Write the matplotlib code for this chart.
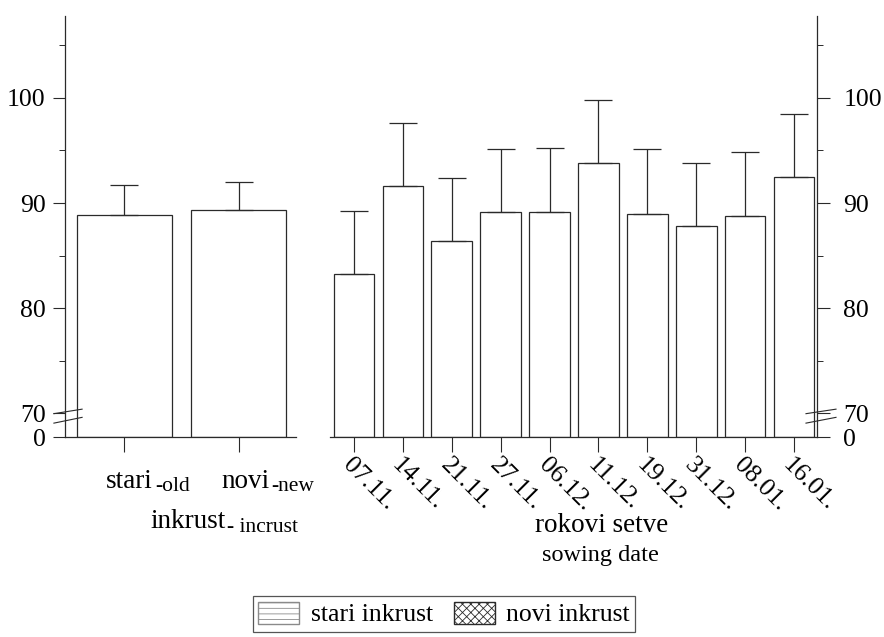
import numpy as np
import matplotlib
matplotlib.use("Agg")
import matplotlib.pyplot as plt
from matplotlib.patches import Patch
from matplotlib.transforms import blended_transform_factory

# left panel: seed coating (inkrust) – old vs new
INK_LABELS = ["stari", "novi"]
INK_SUB = ["-old", "-new"]
INK_MEAN = [88.9, 89.3]
INK_UPPER = [91.7, 92.0]

# right panel: sowing dates
DATES = ["07.11.", "14.11.", "21.11.", "27.11.", "06.12.",
         "11.12.", "19.12.", "31.12.", "08.01.", "16.01."]
DATE_MEAN = [83.2, 91.6, 86.4, 89.1, 89.1, 93.8, 89.0, 87.8, 88.8, 92.5]
DATE_UPPER = [89.2, 97.6, 92.4, 95.1, 95.2, 99.8, 95.1, 93.8, 94.9, 98.5]

YTICKS = [0, 70, 80, 90, 100]
YMINOR = [75, 85, 95, 105]
LEGEND = ["stari inkrust", "novi inkrust"]

BREAK = 70.0   # axis is broken between 0 and 70
GAP = 2.27     # height (in units above 70) that the 0..70 stretch is squeezed into
INK = "#2a2a2a"
W, H = 884, 637

plt.rcParams["font.family"] = ["Liberation Serif", "DejaVu Serif"]
plt.rcParams["hatch.linewidth"] = 0.6


def fwd(v):
    v = np.asarray(v, dtype=float)
    return np.where(v < BREAK, v * GAP / BREAK, v - BREAK + GAP)


def inv(d):
    d = np.asarray(d, dtype=float)
    return np.where(d < GAP, d * BREAK / GAP, d + BREAK - GAP)


def px(x, y):
    return x / W, 1 - y / H


def style_axis(ax, side):
    ax.set_yscale("function", functions=(fwd, inv))
    ax.set_ylim(0, 107.8)
    ax.set_yticks(YTICKS)
    ax.set_yticks(YMINOR, minor=True)
    for s in ax.spines.values():
        s.set_color(INK)
        s.set_linewidth(0.9)
    ax.spines["top"].set_visible(False)
    other = "right" if side == "left" else "left"
    ax.spines[other].set_visible(False)
    ax.tick_params(axis="y", which="major", direction="out", length=9, width=0.8,
                   color=INK, labelsize=18.5)
    ax.tick_params(axis="y", which="minor", direction="out", length=4.5, width=0.7, color=INK)
    ax.tick_params(axis="x", direction="out", length=10.5, width=0.8, color=INK)


def break_marks(ax, x0, x1):
    tr = blended_transform_factory(ax.transAxes, ax.transData)
    for d0, d1 in [(GAP - 0.05, GAP + 0.38), (GAP - 0.95, GAP - 0.4)]:
        ax.plot([x0, x1], inv([d0, d1]), color=INK, lw=0.8, transform=tr, clip_on=False)


def bars(ax, mean, upper):
    x = np.arange(len(mean))
    ax.bar(x, mean, width=0.83, color="white", edgecolor=INK, linewidth=0.9, zorder=2)
    err = np.array(upper) - np.array(mean)
    ax.errorbar(x, mean, yerr=[np.zeros_like(err), err], fmt="none", ecolor=INK,
                elinewidth=0.9, capsize=10, capthick=0.9, zorder=3)
    ax.set_xticks(x)
    return x


fig = plt.figure(figsize=(W / 100, H / 100), dpi=100)
axL = fig.add_axes([65 / W, 200 / H, 231 / W, 421 / H])
axR = fig.add_axes([330 / W, 200 / H, 487 / W, 421 / H])

# left panel
style_axis(axL, "left")
bars(axL, INK_MEAN, INK_UPPER)
axL.set_xlim(-0.52, 1.5)
axL.set_xticklabels([])
axL.tick_params(axis="y", pad=5)
break_marks(axL, -0.048, 0.074)

# right panel
style_axis(axR, "right")
bars(axR, DATE_MEAN, DATE_UPPER)
axR.set_xlim(-0.49, 9.47)
axR.yaxis.tick_right()
axR.tick_params(axis="y", which="both", labelright=True, labelleft=False)
axR.tick_params(axis="y", pad=10)
axR.set_xticklabels(DATES, rotation=-45, ha="left", va="top",
                    rotation_mode="anchor", fontsize=18.5)
axR.tick_params(axis="x", pad=2)
break_marks(axR, 1 - 11 / 487, 1 + 19 / 487)

# category labels with small English glosses
renderer = fig.canvas.get_renderer()


def label_pair(x, y, main, sub, size=19.5, subsize=15.5, drop=3):
    t = fig.text(*px(x, y), main, fontsize=size, ha="left", va="baseline")
    bb = t.get_window_extent(renderer)
    fig.text((bb.x1 + 2) / W, 1 - (y + drop) / H, sub, fontsize=subsize,
             ha="left", va="baseline")


label_pair(106, 488, INK_LABELS[0], INK_SUB[0])
label_pair(221, 488, INK_LABELS[1], INK_SUB[1])
label_pair(150, 528, "inkrust", "- incrust", drop=4)

fig.text(*px(602, 532), "rokovi setve", fontsize=19.5, ha="center", va="baseline")
fig.text(*px(600, 561), "sowing date", fontsize=17.5, ha="center", va="baseline")

handles = [
    Patch(facecolor="white", edgecolor="#8a8a8a", hatch="---", label=LEGEND[0]),
    Patch(facecolor="white", edgecolor=INK, hatch="xxxx", label=LEGEND[1]),
]
leg = fig.legend(handles=handles, loc="center", bbox_to_anchor=px(444, 614), ncol=2,
                 frameon=True, fancybox=False, fontsize=18.5, handlelength=1.6,
                 handleheight=0.95, columnspacing=0.8, handletextpad=0.45,
                 borderpad=0.2, borderaxespad=0)
leg.get_frame().set_edgecolor(INK)
leg.get_frame().set_linewidth(0.9)

fig.savefig("out.png", dpi=100)
